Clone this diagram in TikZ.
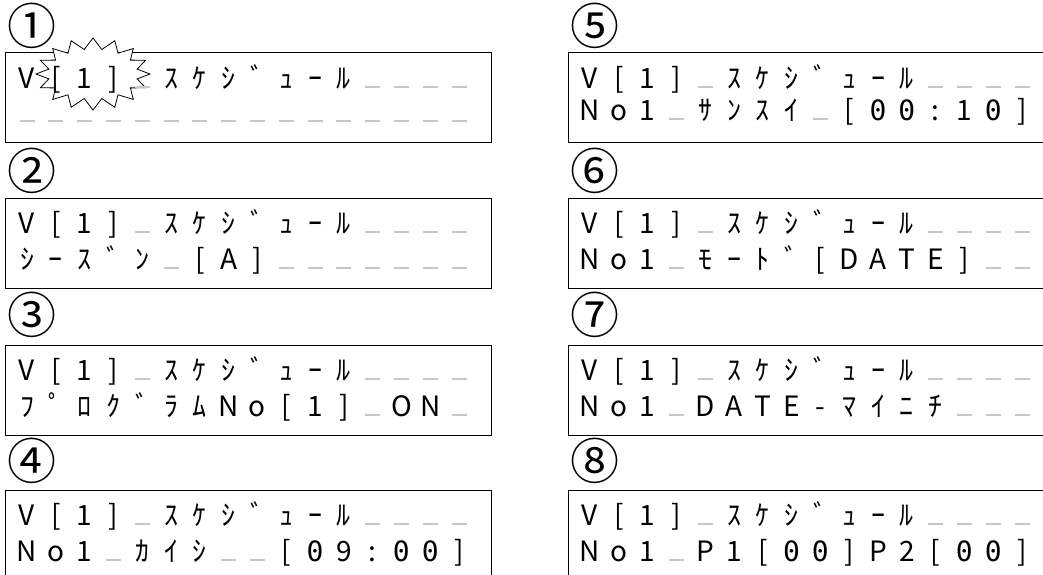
\documentclass[tikz,border=0pt]{standalone}
\usepackage{fontspec}
\newfontfamily\lcdfont{Noto Sans CJK JP}
\newfontfamily\numfont{Noto Sans CJK JP}
\newfontfamily\zerofont{DejaVu Sans Mono}
\newcommand\Z{{\zerofont 0}}
\def\blankchar{*}
\tikzset{
  lcdbox/.style={draw=black, line width=1.4pt, minimum width=486pt, minimum height=90pt, inner sep=0pt, anchor=north west},
  lcdchar/.style={inner sep=0pt, anchor=base, font=\lcdfont\fontsize{28}{28}\selectfont, text=black},
  blankmark/.style={draw=black!22, line width=2.5pt},
  numlabel/.style={inner sep=0pt, font=\numfont\fontsize{49}{49}\selectfont},
  burst/.style={draw=black, fill=white, line width=0.8pt, line join=miter},
}
\newcommand\lcdline[4]{%
  \foreach \ch [count=\k from 0] in {#4}{%
    \ifx\ch\blankchar
      \draw[blankmark] ({#2+22+\k*28.8-7.5},{#3-1}) -- ({#2+22+\k*28.8+7.5},{#3-1});
    \else
      \node[lcdchar] (#1-\k) at ({#2+22+\k*28.8},#3) {\ch};
    \fi
  }%
}
\newcommand\lcdtop[3]{\lcdline{#1}{#2}{#3}{V,[,1,],*,ｽ,ｹ,ｼ,ﾞ,ｭ,ｰ,ﾙ,*,*,*,*}}
\begin{document}
\begin{tikzpicture}[x=1pt,y=-1pt]
\useasboundingbox (0,0) rectangle (1043,574);
\clip (0,0) rectangle (1043,574);
\fill[white] (0,0) rectangle (1043,574);
% boxes
\node[lcdbox] (box1) at (5,52) {};
\node[lcdbox] (box2) at (5,198) {};
\node[lcdbox] (box3) at (5,345) {};
\node[lcdbox] (box4) at (5,490) {};
\node[lcdbox] (box5) at (568,52) {};
\node[lcdbox] (box6) at (568,198) {};
\node[lcdbox] (box7) at (568,345) {};
\node[lcdbox] (box8) at (568,490) {};
% labels
\node[numlabel] (n1) at (32,26) {①};
\node[numlabel] (n2) at (32,171) {②};
\node[numlabel] (n3) at (32,315) {③};
\node[numlabel] (n4) at (32,461) {④};
\node[numlabel] (n5) at (595,26) {⑤};
\node[numlabel] (n6) at (595,171) {⑥};
\node[numlabel] (n7) at (595,315) {⑦};
\node[numlabel] (n8) at (595,461) {⑧};
% starburst
\begin{scope}[shift={(93,74)}]
\draw[burst] (0:57 and 36) \foreach \a in {1,...,31}{ -- ({\a*11.25}:{57-12*mod(\a,2)} and {36-11*mod(\a,2)}) } -- cycle;
\end{scope}
% text rows
\lcdtop{t1a}{5}{88}
\lcdline{t1b}{5}{122}{*,*,*,*,*,*,*,*,*,*,*,*,*,*,*,*}
\lcdtop{t2a}{5}{233}
\lcdline{t2b}{5}{269}{ｼ,ｰ,ｽ,ﾞ,ﾝ,*,[,A,],*,*,*,*,*,*,*}
\lcdtop{t3a}{5}{380}
\lcdline{t3b}{5}{416}{ﾌ,ﾟ,ﾛ,ｸ,ﾞ,ﾗ,ﾑ,N,o,[,1,],*,O,N,*}
\lcdtop{t4a}{5}{525}
\lcdline{t4b}{5}{561}{N,o,1,*,ｶ,ｲ,ｼ,*,*,[,\Z,9,:,\Z,\Z,]}
\lcdtop{t5a}{568}{88}
\lcdline{t5b}{568}{120}{N,o,1,*,ｻ,ﾝ,ｽ,ｲ,*,[,\Z,\Z,:,1,\Z,]}
\lcdtop{t6a}{568}{233}
\lcdline{t6b}{568}{269}{N,o,1,*,ﾓ,ｰ,ﾄ,ﾞ,[,D,A,T,E,],*,*}
\lcdtop{t7a}{568}{380}
\lcdline{t7b}{568}{416}{N,o,1,*,D,A,T,E,-,ﾏ,ｲ,ﾆ,ﾁ,*,*,*}
\lcdtop{t8a}{568}{525}
\lcdline{t8b}{568}{561}{N,o,1,*,P,1,[,\Z,\Z,],P,2,[,\Z,\Z,]}
\end{tikzpicture}
\end{document}
